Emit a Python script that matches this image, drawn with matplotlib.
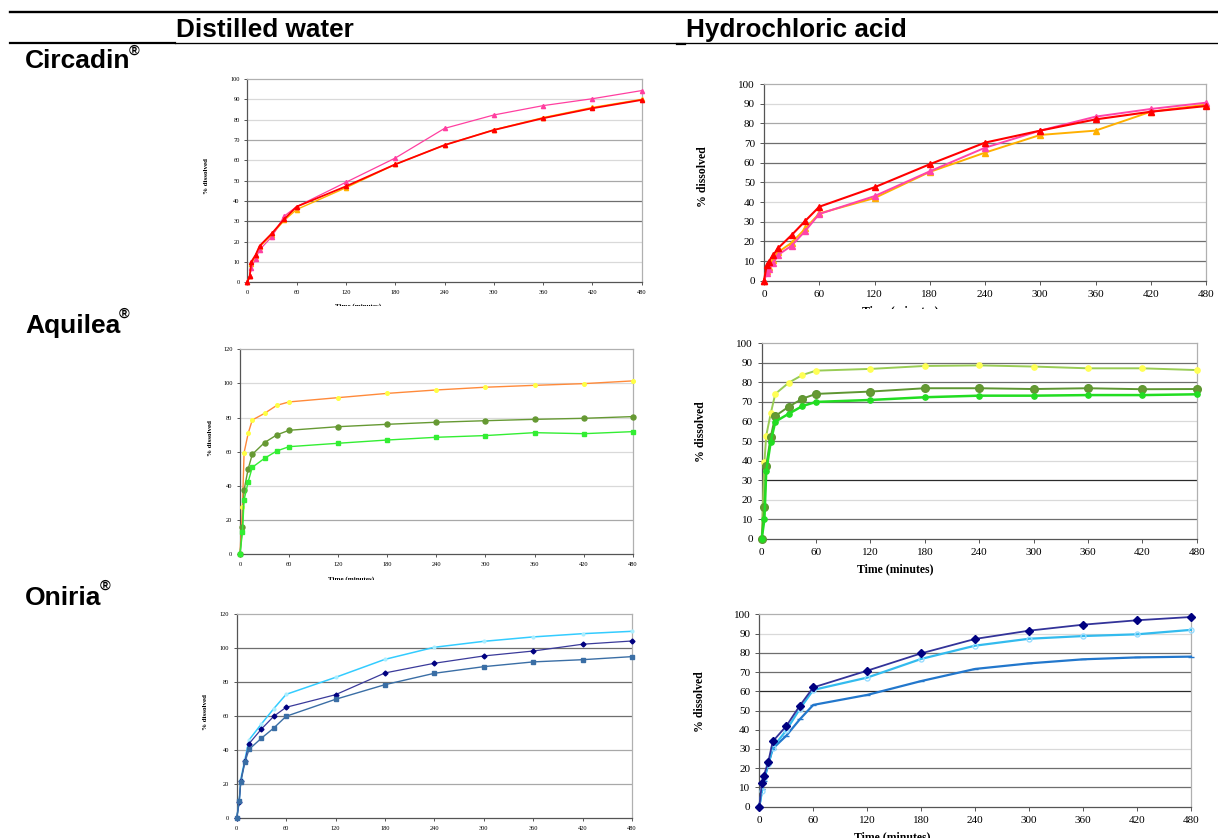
import matplotlib
matplotlib.use("Agg")
import matplotlib.pyplot as plt
from matplotlib.lines import Line2D
from matplotlib.transforms import Bbox, TransformedBbox

W, H = 1218, 838

# sampling times (minutes)
times = [0, 3, 5, 10, 15, 30, 45, 60, 120, 180, 240, 300, 360, 420, 480]
xticks = [0, 60, 120, 180, 240, 300, 360, 420, 480]

col_titles = ["Distilled water", "Hydrochloric acid"]
row_titles = ["Circadin", "Aquilea", "Oniria"]

# % dissolved
circ_w_orange = [0, 3, 9, 13, 17.5, 23.5, 30.5, 35.8, 46.5, 58, 67.5, 75, 81, 86, 90]
circ_w_pink = [0, 3, 7.2, 11.5, 16, 22.5, 32.6, 37.2, 49.2, 61.1, 75.7, 82.3, 86.9, 90.3, 94.3]
circ_w_red = [0, 3.3, 10.2, 13.4, 17.9, 24.1, 31.1, 37.2, 47.2, 58, 67.5, 74.9, 80.7, 85.6, 89.7]

circ_h_orange = [0, 5.1, 7.1, 10.5, 14.4, 19.3, 26.6, 34.2, 42, 55.3, 65.1, 74.1, 76.3, 85.9, 89.5]
circ_h_pink = [0, 3.7, 5.9, 8.8, 13, 17.8, 25.4, 33.9, 43, 55.6, 67.6, 76.3, 83.4, 87.3, 90.5]
circ_h_red = [0, 8.1, 9.7, 13, 16.4, 23.2, 30.5, 37.6, 47.5, 59.2, 70.2, 76.3, 82, 85.9, 88.8]

aqui_w_orange = [0, 27.9, 59.5, 70.8, 78.6, 82.5, 87.2, 89.2, 91.7, 94.2, 96.2, 97.8, 98.9, 99.9, 101.5]
aqui_w_olive = [0, 16.2, 37.7, 50, 58.5, 65.4, 69.9, 72.6, 74.7, 76.1, 77.3, 78.2, 79, 79.6, 80.6]
aqui_w_green = [0, 12.9, 31.8, 42.5, 50.9, 56.2, 60.5, 63, 65, 66.9, 68.5, 69.5, 71.2, 70.6, 71.8]

aqui_h_light = [0, 39.2, 52.7, 64.2, 74.1, 79.9, 83.8, 86, 86.9, 88.4, 88.7, 88.1, 87.2, 87.2, 86.3]
aqui_h_olive = [0, 16.4, 37.4, 52.2, 62.8, 67.6, 71.7, 74.1, 75.3, 77, 77, 76.6, 77, 76.5, 76.6]
aqui_h_green = [0, 9.9, 34.5, 49.7, 59.9, 64, 67.9, 70, 71, 72.4, 73.2, 73.2, 73.5, 73.5, 73.9]

onir_w_cyan = [0, 9.6, 23.1, 34.7, 46.1, 55.5, 64.5, 72.9, 82.9, 93.5, 100.6, 104.1, 106.7, 108.6, 110]
onir_w_navy = [0, 9.5, 22.2, 33.7, 43.9, 52.5, 60, 65.3, 72.7, 85.5, 91.2, 95.5, 98.4, 102.4, 104.3]
onir_w_steel = [0, 10.2, 21.4, 33.1, 40.6, 47.1, 53.1, 60, 70, 78.6, 85.3, 89.2, 92, 93.3, 95.1]

onir_h_navy = [0, 12.5, 16.1, 23.4, 34, 41.9, 52.5, 62, 70.7, 79.7, 87.2, 91.5, 94.6, 96.9, 98.6]
onir_h_cyan = [0, 8, 14.7, 22.2, 30.7, 39.7, 50.8, 60.7, 67.1, 76.8, 83.7, 87.3, 88.7, 89.6, 91.9]
onir_h_blue = [0, 9, 13.5, 22, 30.2, 36.9, 45.4, 52.9, 58.1, 65.3, 71.6, 74.5, 76.6, 77.6, 78]

fig = plt.figure(figsize=(W / 100, H / 100), dpi=100)
renderer = fig.canvas.get_renderer()

SERIF = "Liberation Serif"
SANS = "Liberation Sans"
LT, MD, DK, BK = "#d9d9d9", "#a8a8a8", "#6e6e6e", "#2a2a2a"


def fx(x):
    return x / W


def fy(y):
    return 1 - y / H


def hline(x0, x1, y, lw):
    fig.add_artist(Line2D([fx(x0), fx(x1)], [fy(y), fy(y)], color="black",
                          lw=lw, transform=fig.transFigure))


def chart(rect, ymax, ystep, series, greys, small, ylab, xlab, clip_y=None):
    l, t, r, b = rect
    ax = fig.add_axes([fx(l), fy(b), fx(r - l), (b - t) / H])
    ax.set_xlim(0, 480)
    ax.set_ylim(0, ymax)
    ax.set_xticks(xticks)
    ax.set_yticks(range(0, ymax + 1, ystep))
    for y, g in zip(range(ystep, ymax, ystep), greys):
        ax.axhline(y, color=g, lw=0.9, zorder=1)
    for vals, style in series:
        ax.plot(times, vals, clip_on=False, zorder=3, **style)
    fs = 4.6 if small else 8
    lfs = 5 if small else 8.5
    ax.tick_params(labelsize=fs, length=2.5 if small else 3, width=0.7,
                   color="#555555", pad=3 if small else 3.5)
    for lab in ax.get_xticklabels() + ax.get_yticklabels():
        lab.set_fontfamily(SERIF)
    for side in ["left", "bottom"]:
        ax.spines[side].set_color("#555555")
        ax.spines[side].set_linewidth(0.9)
    for side in ["top", "right"]:
        ax.spines[side].set_color("#b0b0b0")
        ax.spines[side].set_linewidth(0.9)
    fig.text(fx(ylab[0]), fy(ylab[1]), "% dissolved", rotation=90, ha="center",
             va="center", fontsize=lfs, fontweight="bold", family=SERIF)
    if xlab is not None:
        t_ = fig.text(fx(xlab[0]), fy(xlab[1]), "Time (minutes)", ha="center",
                      va="top", fontsize=lfs, fontweight="bold", family=SERIF)
        if clip_y is not None:
            bb = Bbox.from_extents(fx(l - 100), fy(clip_y), fx(r + 20), fy(t))
            t_.set_clip_box(TransformedBbox(bb, fig.transFigure))
            t_.set_clip_on(True)
    return ax


def tri(c, ms, lw):
    return dict(color=c, marker="^", ms=ms, lw=lw, mec=c)


# header rules and titles
hline(10, 1218, 12, 1.7)
hline(10, 175, 43.3, 1.6)
hline(175, 1218, 42.8, 0.95)
hline(677, 685, 44, 1.6)
fig.text(fx(176), fy(36.7), col_titles[0], fontsize=18.8, fontweight="bold",
         family=SANS, va="baseline")
fig.text(fx(686), fy(36.7), col_titles[1], fontsize=18.8, fontweight="bold",
         family=SANS, va="baseline")

for name, base, top in zip(row_titles, [68.3, 333.3, 605], [44, 307, 579]):
    rt = fig.text(fx(25), fy(base), name, fontsize=19, fontweight="bold",
                  family=SANS, va="baseline")
    x_end = rt.get_window_extent(renderer).x1
    fig.text((x_end - 2) / W, fy(top), "®", fontsize=10.5, fontweight="bold",
             family=SANS, va="top")

# Circadin
chart((247.3, 79, 641.7, 282.3), 100, 10,
      [(circ_w_orange, tri("#ffb400", 3, 1.0)),
       (circ_w_pink, tri("#ff3fa0", 3, 0.9)),
       (circ_w_red, tri("#ff0000", 3, 1.3))],
      [LT, LT, DK, DK, MD, LT, MD, LT, LT], True, (207, 176), (358, 303), 306)
chart((764, 84, 1206, 280.7), 100, 10,
      [(circ_h_orange, tri("#ffb000", 4.5, 1.4)),
       (circ_h_pink, tri("#ff44aa", 4.5, 1.4)),
       (circ_h_red, tri("#ff0000", 4.5, 1.5))],
      [DK, DK, MD, LT, MD, DK, DK, MD, LT], False, (703, 177), (900, 305), 309)

# Aquilea
chart((240, 349.3, 632.7, 554.3), 120, 20,
      [(aqui_w_orange, dict(color="#ff8a3a", lw=1.0, marker="o", ms=2.6,
                            mfc="#ffff44", mec="#ffff44")),
       (aqui_w_olive, dict(color="#669933", lw=1.0, marker="o", ms=3.6)),
       (aqui_w_green, dict(color="#33ee33", lw=1.0, marker="s", ms=2.3))],
      [MD, LT, LT, LT, LT], True, (210.7, 438), (351, 576.7), 579.5)
chart((761.7, 343.3, 1196.7, 538.7), 100, 10,
      [(aqui_h_light, dict(color="#99cc55", lw=1.4, marker="o", ms=3.8,
                           mfc="#ffff55", mec="#ffff55")),
       (aqui_h_olive, dict(color="#5e9632", lw=1.4, marker="o", ms=5.5,
                           mfc="#669933", mec="#5e9632")),
       (aqui_h_green, dict(color="#22dd22", lw=1.8, marker="o", ms=3.8))],
      [DK, LT, BK, LT, DK, LT, DK, DK, DK], False, (700.7, 431.7),
      (895.5, 563.5))

# Oniria
chart((236.7, 614.3, 632, 818.3), 120, 20,
      [(onir_w_cyan, dict(color="#33ccff", lw=1.1, marker="o", ms=2,
                          mfc="#aaeeff", mec="#aaeeff")),
       (onir_w_navy, dict(color="#3a3a9a", lw=0.9, marker="D", ms=2.5,
                          mfc="#000080", mec="#000080")),
       (onir_w_steel, dict(color="#3a6ea5", lw=1.0, marker="s", ms=3))],
      [MD, MD, DK, DK, DK], True, (205.7, 711.7), None)
chart((759.3, 614.3, 1191, 806.7), 100, 10,
      [(onir_h_blue, dict(color="#2277cc", lw=1.6, marker="_", ms=5)),
       (onir_h_cyan, dict(color="#33bbee", lw=1.6, marker="o", ms=3.6,
                          mfc="none", mec="#99ddff")),
       (onir_h_navy, dict(color="#333399", lw=1.3, marker="D", ms=3.6,
                          mfc="#000080", mec="#000080"))],
      [DK, DK, LT, LT, DK, BK, DK, DK, LT], False, (700, 701.7), (892, 831))

fig.savefig("out.png", dpi=100)
